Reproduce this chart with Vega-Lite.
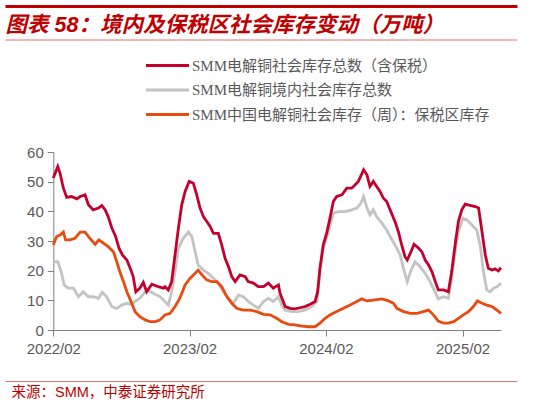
{
  "$schema": "https://vega.github.io/schema/vega-lite/v6.json",
  "width": 512,
  "height": 375,
  "autosize": {"type": "none"},
  "padding": {"left": 5, "top": 6, "right": 21, "bottom": 23},
  "background": "white",
  "datasets": {
    "total": [
      {"d": "2022-02-01", "v": 51.2}, {"d": "2022-02-13", "v": 55.1}, {"d": "2022-02-19", "v": 52.9}, {"d": "2022-02-28", "v": 47.8},
      {"d": "2022-03-09", "v": 44.7}, {"d": "2022-03-22", "v": 45}, {"d": "2022-04-05", "v": 44.2}, {"d": "2022-04-14", "v": 45},
      {"d": "2022-04-27", "v": 45.6}, {"d": "2022-05-06", "v": 42.2}, {"d": "2022-05-19", "v": 40.5}, {"d": "2022-06-02", "v": 41.1},
      {"d": "2022-06-11", "v": 42}, {"d": "2022-06-20", "v": 40.5}, {"d": "2022-06-28", "v": 38.2}, {"d": "2022-07-08", "v": 34.3},
      {"d": "2022-07-18", "v": 31.5}, {"d": "2022-07-27", "v": 27.6}, {"d": "2022-08-05", "v": 25.3}, {"d": "2022-08-17", "v": 23.6},
      {"d": "2022-08-26", "v": 20.8}, {"d": "2022-09-03", "v": 18}, {"d": "2022-09-10", "v": 12.9}, {"d": "2022-09-21", "v": 14.1},
      {"d": "2022-09-30", "v": 16.1}, {"d": "2022-10-09", "v": 12.9}, {"d": "2022-10-23", "v": 15.4}, {"d": "2022-11-09", "v": 14.6},
      {"d": "2022-11-23", "v": 14.1}, {"d": "2022-11-27", "v": 14.6}, {"d": "2022-12-06", "v": 13.5}, {"d": "2022-12-15", "v": 16.3},
      {"d": "2022-12-24", "v": 25.3}, {"d": "2023-01-02", "v": 34.3}, {"d": "2023-01-11", "v": 42.2}, {"d": "2023-01-20", "v": 46.7},
      {"d": "2023-01-31", "v": 50.1}, {"d": "2023-02-11", "v": 49.5}, {"d": "2023-02-20", "v": 45.6}, {"d": "2023-03-01", "v": 41.1},
      {"d": "2023-03-10", "v": 38.2}, {"d": "2023-03-19", "v": 36.6}, {"d": "2023-03-28", "v": 34.9}, {"d": "2023-04-06", "v": 32.6},
      {"d": "2023-04-19", "v": 32.6}, {"d": "2023-04-28", "v": 28.7}, {"d": "2023-05-07", "v": 24.2}, {"d": "2023-05-16", "v": 21.4},
      {"d": "2023-05-25", "v": 18}, {"d": "2023-06-03", "v": 16.3}, {"d": "2023-06-16", "v": 18.6}, {"d": "2023-06-30", "v": 18},
      {"d": "2023-07-08", "v": 16.3}, {"d": "2023-07-22", "v": 15.8}, {"d": "2023-08-04", "v": 14.6}, {"d": "2023-08-18", "v": 14.6},
      {"d": "2023-08-31", "v": 15.8}, {"d": "2023-09-13", "v": 14.1}, {"d": "2023-09-27", "v": 15.2}, {"d": "2023-10-01", "v": 12.5},
      {"d": "2023-10-15", "v": 7.9}, {"d": "2023-10-28", "v": 7.3}, {"d": "2023-11-10", "v": 7.1}, {"d": "2023-11-24", "v": 7.5},
      {"d": "2023-12-07", "v": 7.9}, {"d": "2023-12-21", "v": 8.7}, {"d": "2024-01-03", "v": 9.6}, {"d": "2024-01-10", "v": 12.9},
      {"d": "2024-01-16", "v": 20.8}, {"d": "2024-01-25", "v": 28.7}, {"d": "2024-02-03", "v": 32.6}, {"d": "2024-02-12", "v": 37.7},
      {"d": "2024-02-21", "v": 43.3}, {"d": "2024-03-01", "v": 45}, {"d": "2024-03-15", "v": 45.6}, {"d": "2024-03-28", "v": 47.8},
      {"d": "2024-04-10", "v": 47.8}, {"d": "2024-04-19", "v": 48.9}, {"d": "2024-04-28", "v": 50.1}, {"d": "2024-05-12", "v": 54},
      {"d": "2024-05-21", "v": 52.3}, {"d": "2024-05-29", "v": 48.4}, {"d": "2024-06-07", "v": 50.1}, {"d": "2024-06-16", "v": 48.4},
      {"d": "2024-06-25", "v": 46.7}, {"d": "2024-07-04", "v": 44.4}, {"d": "2024-07-13", "v": 43.3}, {"d": "2024-07-22", "v": 40.5},
      {"d": "2024-08-04", "v": 36.6}, {"d": "2024-08-13", "v": 33.2}, {"d": "2024-08-22", "v": 28.7}, {"d": "2024-08-31", "v": 24.7},
      {"d": "2024-09-06", "v": 23.6}, {"d": "2024-09-16", "v": 26.4}, {"d": "2024-09-24", "v": 28.9}, {"d": "2024-10-06", "v": 27.6},
      {"d": "2024-10-15", "v": 26.4}, {"d": "2024-10-24", "v": 23.6}, {"d": "2024-11-02", "v": 21.9}, {"d": "2024-11-11", "v": 19.7},
      {"d": "2024-11-20", "v": 16.3}, {"d": "2024-11-28", "v": 13.5}, {"d": "2024-12-12", "v": 13.5}, {"d": "2024-12-25", "v": 12.9},
      {"d": "2025-01-03", "v": 19.7}, {"d": "2025-01-12", "v": 28.7}, {"d": "2025-01-21", "v": 36.6}, {"d": "2025-01-30", "v": 40.5},
      {"d": "2025-02-08", "v": 42.4}, {"d": "2025-02-21", "v": 42}, {"d": "2025-03-07", "v": 41.6}, {"d": "2025-03-16", "v": 41.1},
      {"d": "2025-03-25", "v": 33.2}, {"d": "2025-04-03", "v": 25.3}, {"d": "2025-04-11", "v": 20.8}, {"d": "2025-04-21", "v": 20.2},
      {"d": "2025-04-29", "v": 20.6}, {"d": "2025-05-08", "v": 19.9}, {"d": "2025-05-15", "v": 21}
    ],
    "domestic": [
      {"d": "2022-02-01", "v": 23}, {"d": "2022-02-13", "v": 23}, {"d": "2022-02-22", "v": 19.7}, {"d": "2022-03-02", "v": 15.2},
      {"d": "2022-03-13", "v": 14.1}, {"d": "2022-03-27", "v": 14.1}, {"d": "2022-04-09", "v": 11.2}, {"d": "2022-04-22", "v": 12.9},
      {"d": "2022-05-06", "v": 11.2}, {"d": "2022-05-19", "v": 11.2}, {"d": "2022-06-02", "v": 10.7}, {"d": "2022-06-12", "v": 12.7},
      {"d": "2022-06-24", "v": 11.2}, {"d": "2022-07-08", "v": 7.9}, {"d": "2022-07-21", "v": 7.3}, {"d": "2022-08-03", "v": 8.4},
      {"d": "2022-08-17", "v": 9}, {"d": "2022-08-28", "v": 8.7}, {"d": "2022-09-08", "v": 9.6}, {"d": "2022-09-21", "v": 10.7},
      {"d": "2022-10-09", "v": 13.5}, {"d": "2022-10-27", "v": 12.4}, {"d": "2022-11-14", "v": 11.2}, {"d": "2022-11-27", "v": 9.6},
      {"d": "2022-12-06", "v": 8.4}, {"d": "2022-12-15", "v": 12.9}, {"d": "2022-12-24", "v": 19.7}, {"d": "2023-01-02", "v": 27.6},
      {"d": "2023-01-15", "v": 30.9}, {"d": "2023-01-29", "v": 33}, {"d": "2023-02-07", "v": 31.5}, {"d": "2023-02-16", "v": 26.4},
      {"d": "2023-02-24", "v": 21.9}, {"d": "2023-03-10", "v": 20.2}, {"d": "2023-03-23", "v": 19.1}, {"d": "2023-04-06", "v": 17.4},
      {"d": "2023-04-19", "v": 15.8}, {"d": "2023-05-02", "v": 12.9}, {"d": "2023-05-16", "v": 10.7}, {"d": "2023-05-29", "v": 9},
      {"d": "2023-06-12", "v": 11.8}, {"d": "2023-06-25", "v": 11.2}, {"d": "2023-07-08", "v": 9.6}, {"d": "2023-07-22", "v": 8.4},
      {"d": "2023-08-04", "v": 7.3}, {"d": "2023-08-18", "v": 9.6}, {"d": "2023-08-31", "v": 10.7}, {"d": "2023-09-13", "v": 9.6},
      {"d": "2023-09-27", "v": 11.2}, {"d": "2023-10-07", "v": 8}, {"d": "2023-10-15", "v": 6.7}, {"d": "2023-11-02", "v": 6.2},
      {"d": "2023-11-19", "v": 6.2}, {"d": "2023-12-07", "v": 6.7}, {"d": "2023-12-25", "v": 7.9}, {"d": "2024-01-08", "v": 9.6},
      {"d": "2024-01-16", "v": 19.7}, {"d": "2024-01-25", "v": 27.6}, {"d": "2024-02-08", "v": 33.2}, {"d": "2024-02-21", "v": 39.4},
      {"d": "2024-03-06", "v": 39.9}, {"d": "2024-03-24", "v": 39.9}, {"d": "2024-04-10", "v": 40.5}, {"d": "2024-04-24", "v": 41.1},
      {"d": "2024-05-05", "v": 42.8}, {"d": "2024-05-12", "v": 45}, {"d": "2024-05-21", "v": 41.1}, {"d": "2024-05-29", "v": 38.8},
      {"d": "2024-06-07", "v": 40.5}, {"d": "2024-06-16", "v": 38.2}, {"d": "2024-06-30", "v": 36}, {"d": "2024-07-13", "v": 33.7},
      {"d": "2024-07-22", "v": 31.5}, {"d": "2024-08-04", "v": 28.7}, {"d": "2024-08-18", "v": 25.3}, {"d": "2024-08-29", "v": 19.7},
      {"d": "2024-09-06", "v": 16.3}, {"d": "2024-09-16", "v": 20.2}, {"d": "2024-09-27", "v": 23}, {"d": "2024-10-10", "v": 21.4},
      {"d": "2024-10-24", "v": 19.1}, {"d": "2024-11-06", "v": 16.3}, {"d": "2024-11-19", "v": 12.9}, {"d": "2024-11-28", "v": 10.5},
      {"d": "2024-12-12", "v": 11.2}, {"d": "2024-12-25", "v": 10.7}, {"d": "2025-01-03", "v": 17.4}, {"d": "2025-01-12", "v": 26.4},
      {"d": "2025-01-21", "v": 33.2}, {"d": "2025-02-02", "v": 37.7}, {"d": "2025-02-13", "v": 37.1}, {"d": "2025-02-26", "v": 35.4},
      {"d": "2025-03-11", "v": 33.7}, {"d": "2025-03-20", "v": 28.7}, {"d": "2025-03-29", "v": 19.7}, {"d": "2025-04-07", "v": 13.5},
      {"d": "2025-04-16", "v": 12.9}, {"d": "2025-04-25", "v": 14.1}, {"d": "2025-05-04", "v": 14.6}, {"d": "2025-05-15", "v": 15.8}
    ],
    "bonded": [
      {"d": "2022-02-01", "v": 28.7}, {"d": "2022-02-10", "v": 31.5}, {"d": "2022-02-19", "v": 32}, {"d": "2022-02-28", "v": 33},
      {"d": "2022-03-06", "v": 30.4}, {"d": "2022-03-18", "v": 30.4}, {"d": "2022-03-31", "v": 30.9}, {"d": "2022-04-14", "v": 33},
      {"d": "2022-04-27", "v": 33}, {"d": "2022-05-10", "v": 30.9}, {"d": "2022-05-24", "v": 28.9}, {"d": "2022-06-03", "v": 30.4},
      {"d": "2022-06-15", "v": 29.3}, {"d": "2022-06-28", "v": 28.1}, {"d": "2022-07-12", "v": 26.4}, {"d": "2022-07-21", "v": 23},
      {"d": "2022-07-29", "v": 19.7}, {"d": "2022-08-08", "v": 16.3}, {"d": "2022-08-17", "v": 12.9}, {"d": "2022-08-28", "v": 9.6},
      {"d": "2022-09-08", "v": 6.2}, {"d": "2022-09-21", "v": 4.5}, {"d": "2022-10-05", "v": 3.4}, {"d": "2022-10-18", "v": 2.8},
      {"d": "2022-11-01", "v": 2.8}, {"d": "2022-11-14", "v": 3.4}, {"d": "2022-11-27", "v": 5.1}, {"d": "2022-12-11", "v": 5.6},
      {"d": "2022-12-24", "v": 7.9}, {"d": "2023-01-06", "v": 10.7}, {"d": "2023-01-20", "v": 15.2}, {"d": "2023-02-02", "v": 17.4},
      {"d": "2023-02-16", "v": 19.1}, {"d": "2023-02-24", "v": 20.2}, {"d": "2023-03-06", "v": 18.6}, {"d": "2023-03-19", "v": 16.9},
      {"d": "2023-04-01", "v": 16.3}, {"d": "2023-04-15", "v": 16.3}, {"d": "2023-04-28", "v": 14.6}, {"d": "2023-05-12", "v": 11.2},
      {"d": "2023-05-25", "v": 9}, {"d": "2023-06-07", "v": 7.3}, {"d": "2023-06-25", "v": 6.7}, {"d": "2023-07-13", "v": 6.7},
      {"d": "2023-07-31", "v": 6.2}, {"d": "2023-08-18", "v": 5.3}, {"d": "2023-09-05", "v": 5.1}, {"d": "2023-09-23", "v": 3.9},
      {"d": "2023-10-06", "v": 2.8}, {"d": "2023-10-24", "v": 1.9}, {"d": "2023-11-10", "v": 1.7}, {"d": "2023-11-29", "v": 1.3},
      {"d": "2023-12-16", "v": 1.1}, {"d": "2024-01-03", "v": 1.1}, {"d": "2024-01-16", "v": 2.3}, {"d": "2024-01-30", "v": 3.9},
      {"d": "2024-02-12", "v": 5.1}, {"d": "2024-03-01", "v": 6.2}, {"d": "2024-03-19", "v": 7.3}, {"d": "2024-04-06", "v": 8.4},
      {"d": "2024-04-24", "v": 9.6}, {"d": "2024-05-07", "v": 10.5}, {"d": "2024-05-21", "v": 9.8}, {"d": "2024-06-07", "v": 10.1},
      {"d": "2024-06-30", "v": 10.5}, {"d": "2024-07-18", "v": 9.8}, {"d": "2024-07-31", "v": 9}, {"d": "2024-08-09", "v": 7.3},
      {"d": "2024-08-27", "v": 6.2}, {"d": "2024-09-14", "v": 5.6}, {"d": "2024-10-02", "v": 5.6}, {"d": "2024-10-19", "v": 6.2},
      {"d": "2024-11-02", "v": 6.7}, {"d": "2024-11-15", "v": 5.1}, {"d": "2024-11-28", "v": 3}, {"d": "2024-12-12", "v": 2.3},
      {"d": "2024-12-25", "v": 2.3}, {"d": "2025-01-08", "v": 2.8}, {"d": "2025-01-21", "v": 3.9}, {"d": "2025-02-03", "v": 5.1},
      {"d": "2025-02-17", "v": 6.2}, {"d": "2025-03-02", "v": 7.9}, {"d": "2025-03-13", "v": 9.8}, {"d": "2025-03-25", "v": 9},
      {"d": "2025-04-07", "v": 8.4}, {"d": "2025-04-21", "v": 7.9}, {"d": "2025-05-04", "v": 6.7}, {"d": "2025-05-15", "v": 5.6}
    ]
  },
  "layer": [
    {
      "encoding": {
        "x": {
          "field": "d",
          "type": "temporal",
          "scale": {"type": "utc", "domain": [1643673600000, 1747267200000], "range": [48.3, 496]},
          "axis": {
            "orient": "bottom",
            "offset": -51,
            "values": [1643673600000, 1675209600000, 1706745600000, 1738368000000],
            "format": "%Y/%m",
            "title": null,
            "grid": false,
            "labelFlush": false,
            "labelOverlap": false,
            "tickSize": 6,
            "labelPadding": 5
          }
        },
        "y": {
          "field": "v",
          "type": "quantitative",
          "scale": {"domain": [0, 60], "range": [324, 146]},
          "axis": {
            "orient": "left",
            "offset": -48.3,
            "values": [0, 10, 20, 30, 40, 50, 60],
            "title": null,
            "grid": false,
            "tickSize": 6,
            "labelPadding": 4
          }
        }
      },
      "layer": [
        {
          "data": {"name": "domestic"},
          "mark": {"type": "line", "strokeWidth": 2.8},
          "encoding": {
            "color": {
              "datum": "SMM电解铜境内社会库存总数",
              "type": "nominal",
              "scale": {
                "domain": ["SMM电解铜社会库存总数（含保税）", "SMM电解铜境内社会库存总数", "SMM中国电解铜社会库存（周）：保税区库存"],
                "range": ["#C4002F", "#C3C3C3", "#E84A10"]
              },
              "legend": {"title": null}
            }
          }
        },
        {
          "data": {"name": "bonded"},
          "mark": {"type": "line", "strokeWidth": 2.8},
          "encoding": {
            "color": {
              "datum": "SMM中国电解铜社会库存（周）：保税区库存",
              "type": "nominal",
              "scale": {
                "domain": ["SMM电解铜社会库存总数（含保税）", "SMM电解铜境内社会库存总数", "SMM中国电解铜社会库存（周）：保税区库存"],
                "range": ["#C4002F", "#C3C3C3", "#E84A10"]
              },
              "legend": {"title": null}
            }
          }
        },
        {
          "data": {"name": "total"},
          "mark": {"type": "line", "strokeWidth": 2.8},
          "encoding": {
            "color": {
              "datum": "SMM电解铜社会库存总数（含保税）",
              "type": "nominal",
              "scale": {
                "domain": ["SMM电解铜社会库存总数（含保税）", "SMM电解铜境内社会库存总数", "SMM中国电解铜社会库存（周）：保税区库存"],
                "range": ["#C4002F", "#C3C3C3", "#E84A10"]
              },
              "legend": {"title": null}
            }
          }
        }
      ]
    },
    {
      "data": {"name": "total"},
      "mark": {"type": "point", "opacity": 0},
      "encoding": {
        "x": {
          "field": "d",
          "type": "temporal",
          "scale": {"type": "utc"},
          "axis": {
            "orient": "top",
            "offset": 0,
            "title": null,
            "labels": false,
            "ticks": false,
            "grid": false,
            "domainColor": "#C00000",
            "domainWidth": 3
          }
        }
      }
    },
    {
      "data": {"name": "total"},
      "mark": {"type": "point", "opacity": 0},
      "encoding": {
        "x": {
          "field": "d",
          "type": "temporal",
          "scale": {"type": "utc"},
          "axis": {
            "orient": "top",
            "offset": -33.5,
            "title": "图表 58：境内及保税区社会库存变动（万吨）",
            "titleColor": "#C00000",
            "titleFont": "Liberation Sans, Noto Sans CJK SC",
            "titleFontSize": 21.5,
            "titleFontWeight": "bold",
            "titleFontStyle": "italic",
            "titleAnchor": "start",
            "titleAlign": "left",
            "titleBaseline": "alphabetic",
            "titlePadding": 8,
            "labels": false,
            "ticks": false,
            "grid": false,
            "domainColor": "#DE7272",
            "domainWidth": 1
          }
        }
      }
    },
    {
      "data": {"name": "total"},
      "mark": {"type": "point", "opacity": 0},
      "encoding": {
        "x": {
          "field": "d",
          "type": "temporal",
          "scale": {"type": "utc"},
          "axis": {
            "orient": "bottom",
            "offset": 0,
            "title": "来源：SMM，中泰证券研究所",
            "titleColor": "#C00000",
            "titleFont": "Liberation Sans, Noto Sans CJK SC",
            "titleFontSize": 14.5,
            "titleFontWeight": "normal",
            "titleAnchor": "start",
            "titleAlign": "left",
            "titleBaseline": "top",
            "titlePadding": 4,
            "titleX": 6,
            "labels": false,
            "ticks": false,
            "grid": false,
            "domainColor": "#DE7272",
            "domainWidth": 1
          }
        }
      }
    }
  ],
  "resolve": {"scale": {"x": "independent"}, "axis": {"x": "independent"}},
  "config": {
    "view": {"stroke": null},
    "axis": {
      "labelFont": "Liberation Sans",
      "labelFontSize": 15,
      "labelColor": "#595959",
      "domainColor": "#808080",
      "tickColor": "#808080"
    },
    "legend": {
      "orient": "none",
      "legendX": 152,
      "legendY": 49,
      "padding": 0,
      "symbolType": "M-2.5,0H2.5",
      "symbolSize": 296,
      "symbolStrokeWidth": 3,
      "labelFont": "Liberation Serif, Noto Sans CJK SC",
      "labelFontSize": 15,
      "labelColor": "#595959",
      "labelLimit": 400,
      "labelOffset": 14,
      "rowPadding": 5.5
    }
  }
}
